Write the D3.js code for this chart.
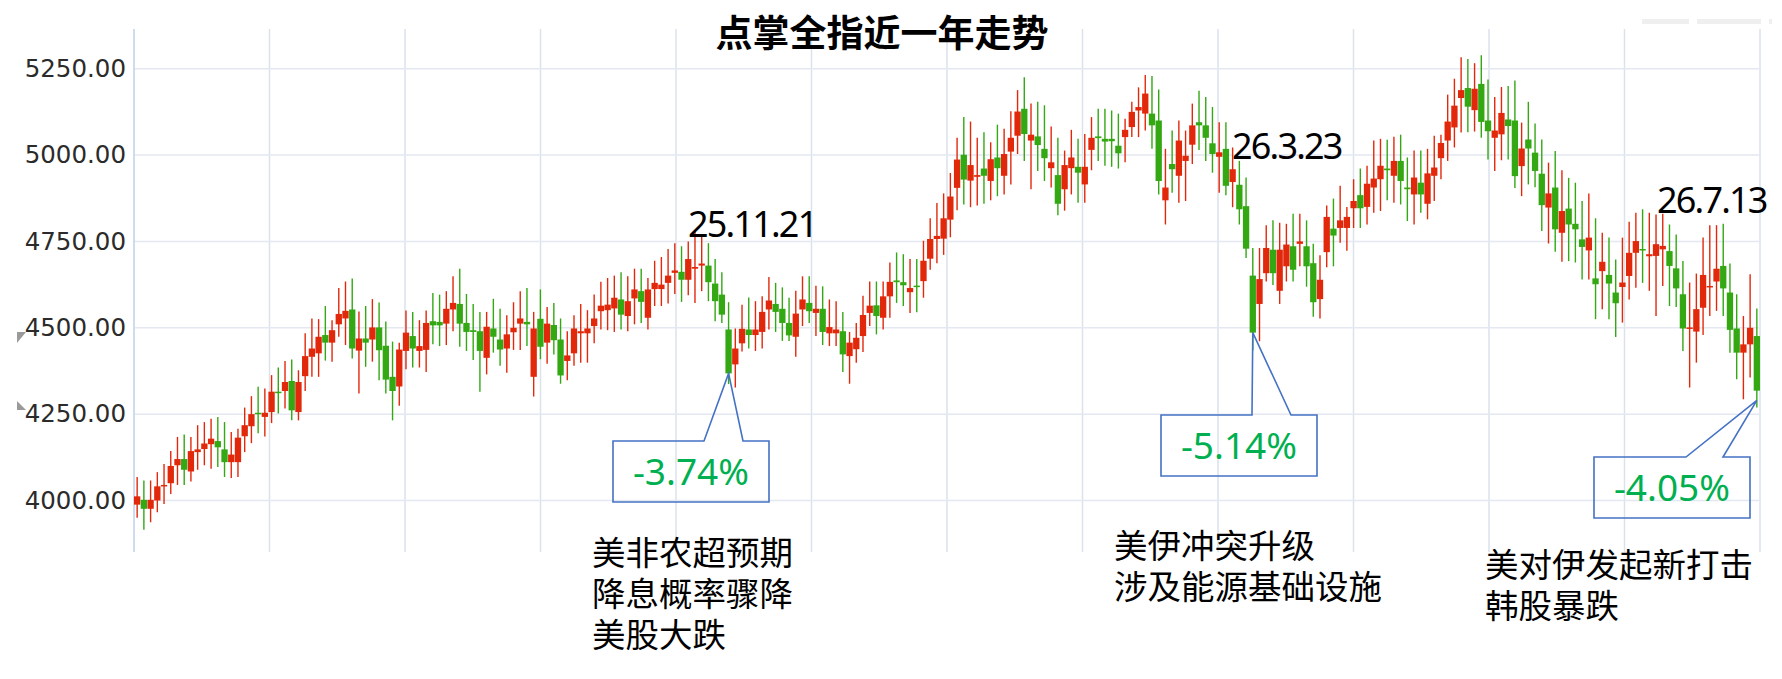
<!DOCTYPE html>
<html>
<head>
<meta charset="utf-8">
<script src="https://cdn.jsdelivr.net/npm/d3@7"></script>
<style>
  html, body { margin: 0; padding: 0; background: #fff; }
  svg { display: block; }
</style>
</head>
<body>
<div id="chart"></div>
<script>
// daily candles (red = up, green = down)
const opens = [
  3988,4002,3976,4000,4041,4050,4102,4120,4084,4140, 4149,4163,4172,4148,4111,4111,4186,4215,4254,4242,
  4256,4315,4317,4346,4256,4360,4416,4426,4479,4457, 4510,4527,4553,4434,4469,4466,4501,4448,4358,4330,
  4433,4476,4433,4436,4519,4517,4512,4553,4569,4514, 4493,4490,4413,4498,4466,4440,4487,4512,4517,4358,
  4526,4457,4508,4466,4404,4426,4484,4484,4505,4548, 4551,4556,4582,4534,4585,4606,4529,4612,4612,4630,
  4659,4662,4639,4671,4680,4680,4628,4596,4495,4394, 4455,4495,4479,4488,4553,4569,4555,4514,4474,4553,
  4572,4543,4555,4484,4484,4490,4418,4438,4476,4543, 4565,4529,4591,4637,4632,4603,4622,4635,4700,4757,
  4758,4813,4905,5001,4926,4937,4961,4925,4993,4940, 5010,5056,5134,5042,5054,5018,4962,4942,4901,4962,
  4966,4915,5015,5054,5047,5047,5027,5052,5081,5129, 5120,5120,5100,4869,4974,4940,4983,5030,5095,5086,
  5034,4995,5018,4922,4914,4852,4651,4569,4658,4726, 4607,4678,4736,4743,4736,4687,4583,4719,4787,4789,
  4789,4846,4884,4850,4906,4930,4961,4940,4983,4906, 4886,4920,4859,4940,4991,5042,5080,5165,5194,5130,
  5206,5100,5050,5060,5103,5100,4968,5045,5007,4946, 4848,4906,4775,4845,4801,4756,4724,4643,4664,4653,
  4602,4618,4650,4717,4728,4707,4708,4727,4722,4672, 4597,4498,4489,4558,4618,4634,4679,4602,4498,4428,
  4452,4476
];
const closes = [
  4012,3976,4002,4041,4045,4100,4120,4089,4143,4148, 4165,4179,4154,4111,4133,4182,4218,4250,4251,4254,
  4315,4312,4343,4261,4343,4418,4440,4474,4457,4493, 4540,4549,4440,4469,4457,4501,4435,4350,4317,4437,
  4486,4440,4447,4514,4507,4507,4555,4572,4512,4488, 4488,4433,4503,4474,4437,4481,4500,4527,4510,4498,
  4445,4512,4464,4362,4420,4498,4490,4498,4527,4564, 4567,4587,4538,4577,4611,4575,4611,4630,4625,4651,
  4666,4639,4699,4676,4686,4632,4577,4538,4368,4440, 4497,4479,4495,4546,4579,4546,4514,4478,4541,4582,
  4548,4555,4488,4502,4495,4423,4457,4471,4537,4564, 4534,4591,4633,4632,4623,4615,4618,4694,4757,4766,
  4817,4880,4987,4929,4971,4942,4940,4988,4962,5003, 5050,5126,5061,5059,5029,4991,4979,4859,4971,4993,
  4949,4966,5050,5049,5039,5040,5005,5073,5125,5139, 5178,5086,4925,4906,4959,5042,4998,5086,5086,5050,
  5003,5008,4911,4959,4843,4729,4486,4641,4731,4658, 4726,4741,4668,4750,4678,4574,4639,4821,4767,4811,
  4821,4867,4846,4917,4932,4969,4956,4983,4925,4901, 4935,4886,4947,4964,5035,5097,5143,5188,5140,5192,
  5096,5069,5071,5122,5084,4939,5019,5019,4954,4855, 4889,4785,4838,4799,4785,4734,4761,4626,4691,4628,
  4571,4631,4717,4751,4725,4713,4742,4737,4679,4614, 4498,4501,4554,4653,4621,4671,4614,4494,4428,4452,
  4500,4318
];
const highs = [
  4068,4058,4058,4082,4106,4143,4184,4191,4184,4218, 4227,4237,4242,4227,4198,4208,4269,4302,4329,4324,
  4363,4385,4404,4408,4377,4484,4527,4525,4563,4522, 4615,4634,4643,4547,4563,4583,4573,4518,4460,4457,
  4550,4546,4522,4550,4601,4596,4606,4649,4671,4598, 4569,4546,4546,4584,4555,4536,4574,4606,4615,4546,
  4611,4560,4572,4527,4490,4536,4569,4551,4596,4633, 4644,4651,4661,4649,4671,4671,4644,4694,4705,4728,
  4745,4736,4750,4778,4769,4745,4699,4661,4574,4498, 4567,4588,4577,4591,4647,4630,4617,4587,4607,4649,
  4649,4622,4620,4582,4577,4546,4488,4514,4593,4634, 4634,4634,4689,4718,4713,4699,4699,4752,4817,4861,
  4889,4948,5050,5110,5097,5050,5066,5037,5088,5076, 5127,5188,5225,5149,5154,5144,5083,5050,5013,5073,
  5047,5061,5110,5134,5134,5129,5120,5105,5154,5196, 5232,5229,5190,5018,5071,5100,5071,5149,5186,5168,
  5139,5095,5095,5022,4983,4935,4731,4731,4797,4811, 4804,4801,4830,4830,4811,4743,4710,4854,4874,4911,
  4850,4930,4961,4969,5042,5047,5044,5053,5059,4993, 5013,5013,5018,5056,5059,5175,5221,5283,5278,5266,
  5289,5219,5168,5197,5200,5216,5094,5154,5091,5045, 4978,5012,4956,4934,4920,4867,4889,4817,4775,4761,
  4698,4761,4807,4833,4843,4833,4828,4830,4799,4770, 4693,4631,4657,4761,4797,4797,4801,4686,4597,4534,
  4655,4556
];
const lows = [
  3950,3915,3937,3966,3990,4019,4045,4045,4055,4089, 4102,4092,4097,4068,4065,4068,4140,4166,4195,4185,
  4224,4252,4266,4232,4232,4317,4358,4358,4405,4402, 4474,4450,4411,4310,4387,4402,4348,4310,4232,4274,
  4380,4385,4385,4372,4452,4447,4450,4490,4445,4433, 4407,4315,4365,4428,4390,4370,4436,4436,4447,4301,
  4409,4396,4423,4338,4348,4390,4399,4399,4455,4495, 4493,4488,4495,4490,4510,4514,4495,4563,4563,4570,
  4598,4575,4594,4572,4606,4577,4519,4514,4337,4327, 4431,4440,4433,4440,4495,4488,4462,4462,4416,4505,
  4514,4476,4450,4447,4447,4372,4338,4399,4430,4505, 4481,4495,4529,4572,4563,4543,4545,4587,4668,4687,
  4711,4762,4840,4857,4849,4854,4859,4869,4881,4886, 4915,5003,4983,4901,4954,4925,4906,4826,4839,4886,
  4862,4862,4956,4983,4969,4966,4961,4979,5052,5052, 5071,5018,4886,4799,4891,4862,4867,4974,5015,4983,
  4949,4891,4884,4849,4799,4702,4435,4461,4634,4624, 4569,4634,4634,4678,4619,4532,4527,4675,4678,4746,
  4723,4789,4789,4799,4833,4838,4869,4862,4857,4809, 4799,4833,4814,4867,4930,4983,5022,5065,5066,5068,
  5050,4987,4954,4985,4987,4905,4881,4915,4907,4780, 4744,4720,4691,4693,4689,4640,4640,4525,4554,4525,
  4473,4515,4582,4616,4630,4607,4534,4621,4563,4560, 4433,4327,4399,4479,4534,4549,4534,4428,4351,4293,
  4356,4269
];

const yTicks = [4000, 4250, 4500, 4750, 5000, 5250];
const title = "点掌全指近一年走势";

// the three sharp drops that are called out
const dropIndex = [88, 166, 241];
const dropTip = [4368, 4486, 4290];
const dropPct = ["-3.74%", "-5.14%", "-4.05%"];
const dropDate = ["25.11.21", "26.3.23", "26.7.13"];
const dropNotes = [
  ["美非农超预期", "降息概率骤降", "美股大跌"],
  ["美伊冲突升级", "涉及能源基础设施"],
  ["美对伊发起新打击", "韩股暴跌"]
];

// layout of the callouts (pixels)
const boxPos = [[613, 441], [1161, 415], [1594, 457]];
const boxLegs = [[704, 743], [1252, 1291], [1686, 1723]];
const datePos = [[688, 237], [1232, 159], [1657, 213]];
const notePos = [[592, 565], [1114, 558], [1485, 577]];

const width = 1782, height = 679;
const plot = { left: 134, right: 1760, top: 29, bottom: 552 };
const UP = "#e2280b", DOWN = "#33a813";

const svg = d3.select("#chart").append("svg")
  .attr("width", width)
  .attr("height", height)
  .style("background", "#fff");

const n = opens.length;
const x = d3.scaleBand()
  .domain(d3.range(n))
  .range([plot.left, plot.right])
  .paddingInner(0.06);

const y = d3.scaleLinear()
  .domain([4000, 5250])
  .range([500.5, 68.7]);

// grid
const vLines = d3.range(13).map(k => plot.left + k * (plot.right - plot.left) / 12);
svg.append("g").selectAll("line")
  .data(vLines)
  .enter().append("line")
  .attr("x1", d => d).attr("x2", d => d)
  .attr("y1", plot.top).attr("y2", plot.bottom)
  .attr("stroke", "#dbe2ec")
  .attr("stroke-width", 1.5);

svg.append("g").selectAll("line")
  .data(yTicks)
  .enter().append("line")
  .attr("x1", plot.left).attr("x2", plot.right)
  .attr("y1", d => y(d)).attr("y2", d => y(d))
  .attr("stroke", "#e3e8f1")
  .attr("stroke-width", 1.5);

// left axis line
svg.append("line")
  .attr("x1", plot.left).attr("x2", plot.left)
  .attr("y1", plot.top).attr("y2", plot.bottom)
  .attr("stroke", "#c9d6ec")
  .attr("stroke-width", 1.5);

// y labels
const yAxis = d3.axisLeft(y).tickValues(yTicks).tickFormat(d3.format(".2f")).tickSize(0).tickPadding(8);
const gy = svg.append("g")
  .attr("transform", `translate(${plot.left},0)`)
  .call(yAxis);
gy.select(".domain").remove();
gy.selectAll("text")
  .style("font-family", "'DejaVu Sans', sans-serif")
  .style("font-size", "24.5px")
  .attr("fill", "#2b2b2b");

// candles
const bw = x.bandwidth();
const candles = svg.append("g").selectAll("g")
  .data(d3.range(n))
  .enter().append("g");

candles.append("line")
  .attr("x1", i => x(i) + bw / 2).attr("x2", i => x(i) + bw / 2)
  .attr("y1", i => y(highs[i])).attr("y2", i => y(lows[i]))
  .attr("stroke", i => closes[i] >= opens[i] ? UP : DOWN)
  .attr("stroke-width", 1.4);

candles.append("rect")
  .attr("x", i => x(i))
  .attr("width", bw)
  .attr("y", i => y(Math.max(opens[i], closes[i])))
  .attr("height", i => Math.max(1.5, Math.abs(y(opens[i]) - y(closes[i]))))
  .attr("fill", i => closes[i] >= opens[i] ? UP : DOWN);

// title
svg.append("text")
  .attr("x", 882).attr("y", 47)
  .attr("text-anchor", "middle")
  .style("font-family", "'Noto Sans CJK SC', sans-serif")
  .style("font-weight", "bold")
  .style("font-size", "37px")
  .attr("fill", "#000")
  .text(title);

// faint toolbox marks top right + small handles on the left
svg.append("g").selectAll("rect")
  .data([[1642, 47], [1697, 64], [1769, 3]])
  .enter().append("rect")
  .attr("x", d => d[0]).attr("y", 19)
  .attr("width", d => d[1]).attr("height", 5)
  .attr("fill", "#efefef");
svg.append("path").attr("d", "M17,332L26,332L17,343Z").attr("fill", "#9a9a9a");
svg.append("path").attr("d", "M17,401L17,410L26,410Z").attr("fill", "#9a9a9a");

// callouts
const boxW = 156, boxH = 61;
dropIndex.forEach((idx, k) => {
  const tx = x(idx) + bw / 2;
  const ty = y(dropTip[k]);
  const [bx, by] = boxPos[k];
  const [l1, l2] = boxLegs[k];
  const p = d3.path();
  p.moveTo(bx, by);
  p.lineTo(l1, by);
  p.lineTo(tx, ty);
  p.lineTo(l2, by);
  p.lineTo(bx + boxW, by);
  p.lineTo(bx + boxW, by + boxH);
  p.lineTo(bx, by + boxH);
  p.closePath();
  svg.append("path")
    .attr("d", p.toString())
    .attr("fill", "none")
    .attr("stroke", "#4472c4")
    .attr("stroke-width", 1.6);

  svg.append("text")
    .attr("x", bx + boxW / 2).attr("y", by + boxH / 2 + 13)
    .attr("text-anchor", "middle")
    .style("font-family", "'Noto Sans', sans-serif")
    .style("font-size", "37px")
    .attr("fill", "#00b050")
    .text(dropPct[k]);

  svg.append("text")
    .attr("x", datePos[k][0]).attr("y", datePos[k][1])
    .style("font-family", "'Noto Sans', sans-serif")
    .style("font-size", "36px")
    .style("letter-spacing", "-1.8px")
    .attr("fill", "#000")
    .text(dropDate[k]);

  svg.append("g").selectAll("text")
    .data(dropNotes[k])
    .enter().append("text")
    .attr("x", notePos[k][0])
    .attr("y", (d, j) => notePos[k][1] + j * 41)
    .style("font-family", "'Noto Sans CJK SC', sans-serif")
    .style("font-size", "33.5px")
    .attr("fill", "#000")
    .text(d => d);
});
</script>
</body>
</html>
